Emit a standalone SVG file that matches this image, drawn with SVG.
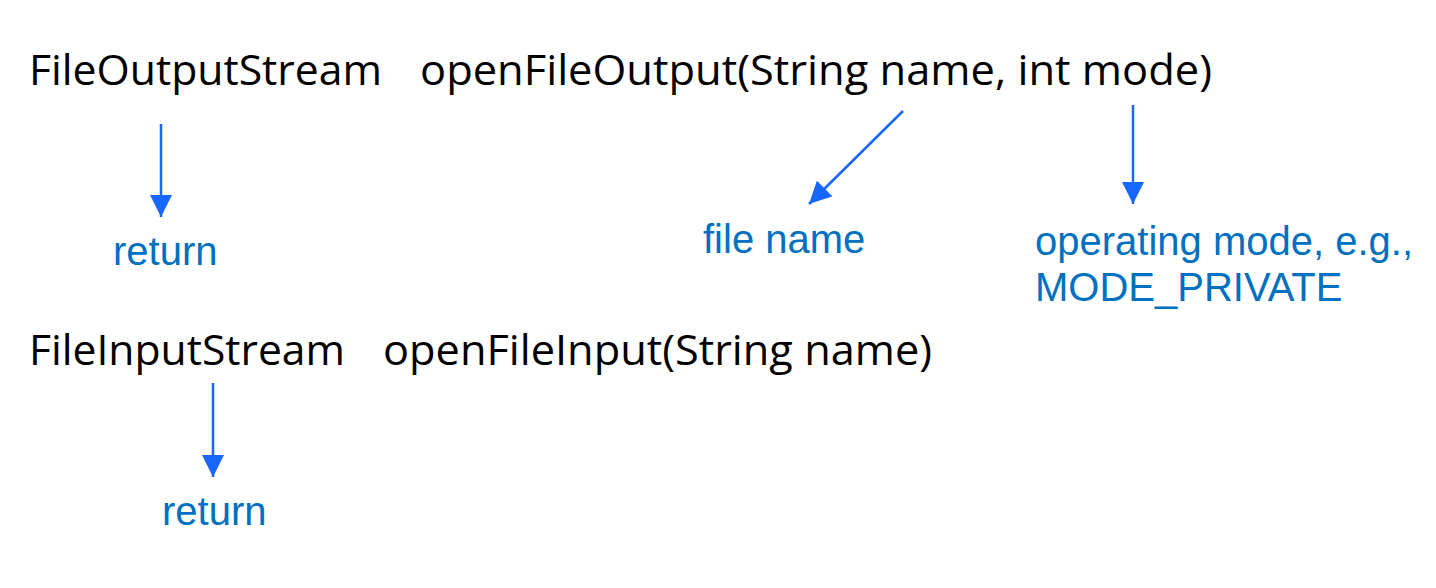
<svg xmlns="http://www.w3.org/2000/svg" width="1436" height="588" viewBox="0 0 1436 588">
<style>
.code{font-family:"Open Sans","Noto Sans","Liberation Sans",sans-serif;font-size:42px;fill:#000}
.lbl{font-family:"Liberation Sans",Arial,sans-serif;font-size:40px;fill:#0070C0}
.arr{stroke:#1766FF;stroke-width:2.5;fill:none;marker-end:url(#ah)}
</style>
<defs>
<marker id="ah" viewBox="0 0 22 22" refX="22" refY="11" markerWidth="22" markerHeight="22" markerUnits="userSpaceOnUse" orient="auto">
<path d="M0,0 L22,11 L0,22 Z" fill="#1766FF"/>
</marker>
</defs>
<g id="sig-output">
<text class="code" x="29" y="85" textLength="353" lengthAdjust="spacingAndGlyphs">FileOutputStream</text>
<text class="code" x="420" y="85" textLength="792" lengthAdjust="spacingAndGlyphs">openFileOutput(String name, int mode)</text>
</g>
<g id="sig-input">
<text class="code" x="29" y="365" textLength="316" lengthAdjust="spacingAndGlyphs">FileInputStream</text>
<text class="code" x="383" y="365" textLength="549" lengthAdjust="spacingAndGlyphs">openFileInput(String name)</text>
</g>
<g id="label-return1"><text class="lbl" x="113" y="265">return</text></g>
<g id="label-filename"><text class="lbl" x="703" y="253">file name</text></g>
<g id="label-mode"><text class="lbl" x="1035" y="255">operating mode, e.g.,</text><text class="lbl" x="1035" y="301">MODE_PRIVATE</text></g>
<g id="label-return2"><text class="lbl" x="162" y="525">return</text></g>
<g id="connectors">
<line class="arr" x1="161" y1="124" x2="161" y2="217"/>
<line class="arr" x1="903" y1="111" x2="809" y2="204"/>
<line class="arr" x1="1133" y1="105" x2="1133" y2="204"/>
<line class="arr" x1="213" y1="383" x2="213" y2="477"/>
</g>
</svg>
